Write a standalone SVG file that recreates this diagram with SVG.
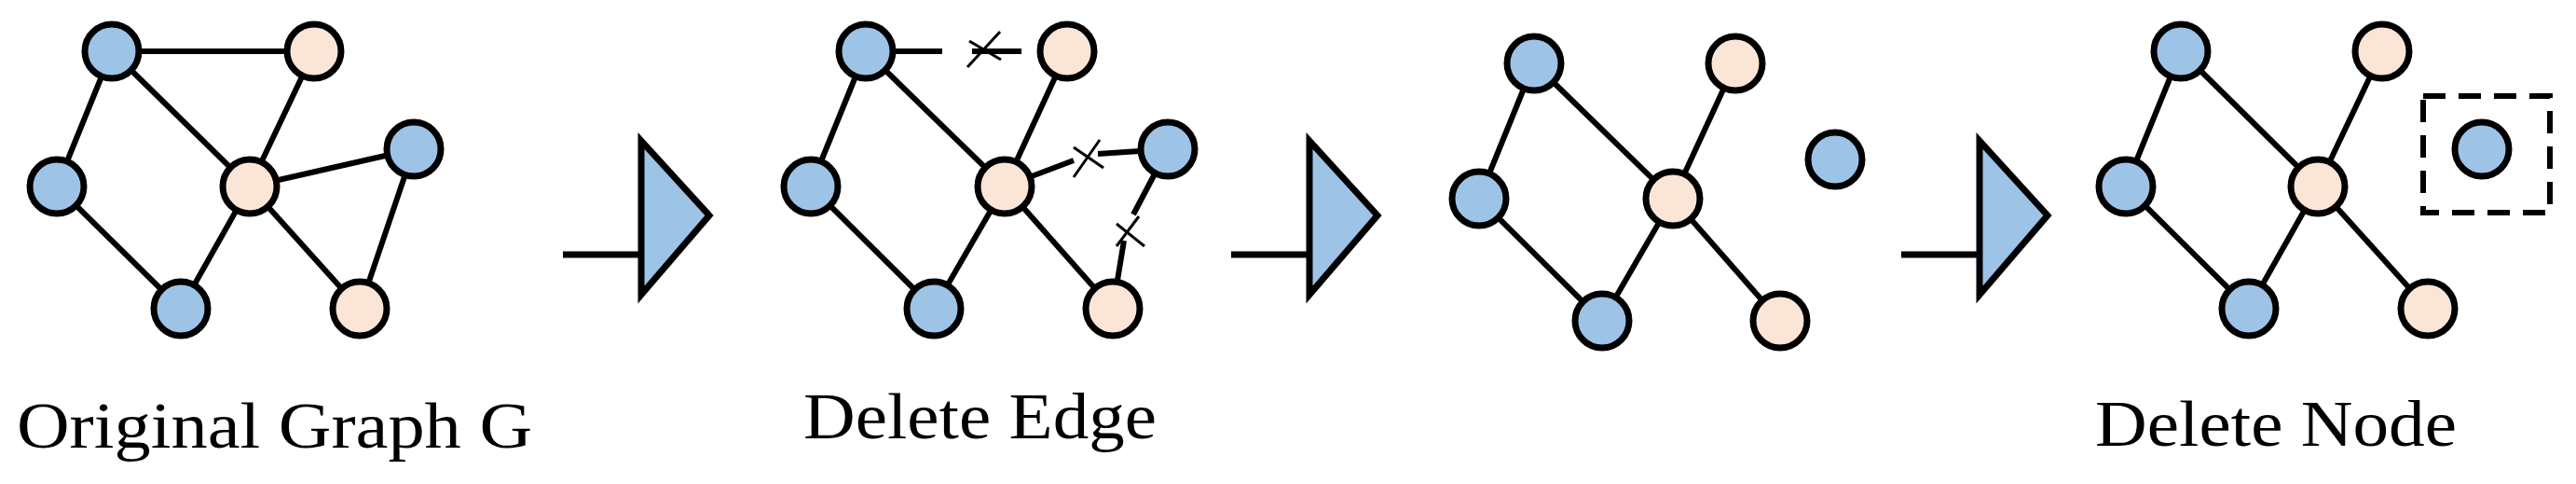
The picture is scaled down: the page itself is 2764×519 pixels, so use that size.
<svg xmlns="http://www.w3.org/2000/svg" width="2764" height="519" viewBox="0 0 2764 519">
<style>
.e{stroke:#000;stroke-width:6;fill:none}
.b{fill:#9dc3e6;stroke:#000;stroke-width:7}
.p{fill:#fbe5d6;stroke:#000;stroke-width:7}
.ar{fill:#9dc3e6;stroke:#000;stroke-width:7}
.t{font-family:"Liberation Serif",serif;font-size:70px;fill:#000}
</style>
<defs>
<path id="arrow" d="M0,42 H84 V-80 L157,0 L84,85 V42 H0 Z" transform="translate(0,-1)"/>
</defs>
<g id="connectors">
<!-- graph 1 -->
<line class="e" x1="120" y1="55" x2="337" y2="55"/>
<line class="e" x1="120" y1="55" x2="61" y2="200"/>
<line class="e" x1="120" y1="55" x2="268" y2="200"/>
<line class="e" x1="337" y1="55" x2="268" y2="200"/>
<line class="e" x1="268" y1="200" x2="444" y2="160"/>
<line class="e" x1="444" y1="160" x2="386" y2="331"/>
<line class="e" x1="61" y1="200" x2="194" y2="331"/>
<line class="e" x1="194" y1="331" x2="268" y2="200"/>
<line class="e" x1="268" y1="200" x2="386" y2="331"/>
<!-- graph 2 -->
<line class="e" x1="929" y1="55" x2="1011" y2="55"/>
<line class="e" x1="1043" y1="55" x2="1096" y2="55"/>
<line class="e" x1="929" y1="55" x2="870" y2="200"/>
<line class="e" x1="929" y1="55" x2="1078" y2="200"/>
<line class="e" x1="1145" y1="55" x2="1078" y2="200"/>
<line class="e" x1="1078" y1="200" x2="1152" y2="172"/>
<line class="e" x1="1178" y1="165" x2="1253" y2="160"/>
<line class="e" x1="1253" y1="160" x2="1216" y2="230"/>
<line class="e" x1="1206" y1="258" x2="1194" y2="331"/>
<line class="e" x1="870" y1="200" x2="1002" y2="331"/>
<line class="e" x1="1002" y1="331" x2="1078" y2="200"/>
<line class="e" x1="1078" y1="200" x2="1194" y2="331"/>
<g stroke="#000" stroke-width="3">
<line x1="1073" y1="34" x2="1038" y2="72"/><line x1="1040" y1="44" x2="1074" y2="64"/>
<line x1="1180" y1="150" x2="1152" y2="190"/><line x1="1152" y1="158" x2="1184" y2="180"/>
<line x1="1222" y1="232" x2="1198" y2="264"/><line x1="1198" y1="240" x2="1228" y2="264"/>
</g>
<!-- graph 3 -->
<line class="e" x1="1646" y1="68" x2="1587" y2="213"/>
<line class="e" x1="1646" y1="68" x2="1795" y2="213"/>
<line class="e" x1="1862" y1="68" x2="1795" y2="213"/>
<line class="e" x1="1587" y1="213" x2="1719" y2="344"/>
<line class="e" x1="1719" y1="344" x2="1795" y2="213"/>
<line class="e" x1="1795" y1="213" x2="1910" y2="344"/>
<!-- graph 4 -->
<line class="e" x1="2340" y1="55" x2="2281" y2="200"/>
<line class="e" x1="2340" y1="55" x2="2487" y2="200"/>
<line class="e" x1="2556" y1="55" x2="2487" y2="200"/>
<line class="e" x1="2281" y1="200" x2="2413" y2="331"/>
<line class="e" x1="2413" y1="331" x2="2487" y2="200"/>
<line class="e" x1="2487" y1="200" x2="2605" y2="331"/>
</g>
<g id="arrows">
<use href="#arrow" class="ar" x="604" y="232"/>
<use href="#arrow" class="ar" x="1321" y="232"/>
<use href="#arrow" class="ar" x="2040" y="232"/>
</g>
<g id="graph1">
<circle class="b" cx="120" cy="55" r="29"/><circle class="p" cx="337" cy="55" r="29"/>
<circle class="b" cx="61" cy="200" r="29"/><circle class="p" cx="268" cy="200" r="29"/>
<circle class="b" cx="444" cy="160" r="29"/><circle class="b" cx="194" cy="331" r="29"/>
<circle class="p" cx="386" cy="331" r="29"/>
</g>
<g id="graph2">
<circle class="b" cx="929" cy="55" r="29"/><circle class="p" cx="1145" cy="55" r="29"/>
<circle class="b" cx="870" cy="200" r="29"/><circle class="p" cx="1078" cy="200" r="29"/>
<circle class="b" cx="1253" cy="160" r="29"/><circle class="b" cx="1002" cy="331" r="29"/>
<circle class="p" cx="1194" cy="331" r="29"/>
</g>
<g id="graph3">
<circle class="b" cx="1646" cy="68" r="29"/><circle class="p" cx="1862" cy="68" r="29"/>
<circle class="b" cx="1587" cy="213" r="29"/><circle class="p" cx="1795" cy="213" r="29"/>
<circle class="b" cx="1969" cy="171" r="29"/><circle class="b" cx="1719" cy="344" r="29"/>
<circle class="p" cx="1910" cy="344" r="29"/>
</g>
<g id="graph4">
<circle class="b" cx="2340" cy="55" r="29"/><circle class="p" cx="2556" cy="55" r="29"/>
<circle class="b" cx="2281" cy="200" r="29"/><circle class="p" cx="2487" cy="200" r="29"/>
<circle class="b" cx="2663" cy="160" r="29"/><circle class="b" cx="2413" cy="331" r="29"/>
<circle class="p" cx="2605" cy="331" r="29"/>
<rect x="2600" y="103" width="136" height="125" fill="none" stroke="#000" stroke-width="6" stroke-dasharray="24,14"/>
</g>
<g id="labels">
<text class="t" x="18" y="480" textLength="553" lengthAdjust="spacingAndGlyphs">Original Graph G</text>
<text class="t" x="862" y="470" textLength="379" lengthAdjust="spacingAndGlyphs">Delete Edge</text>
<text class="t" x="2248" y="478" textLength="388" lengthAdjust="spacingAndGlyphs">Delete Node</text>
</g>
</svg>
